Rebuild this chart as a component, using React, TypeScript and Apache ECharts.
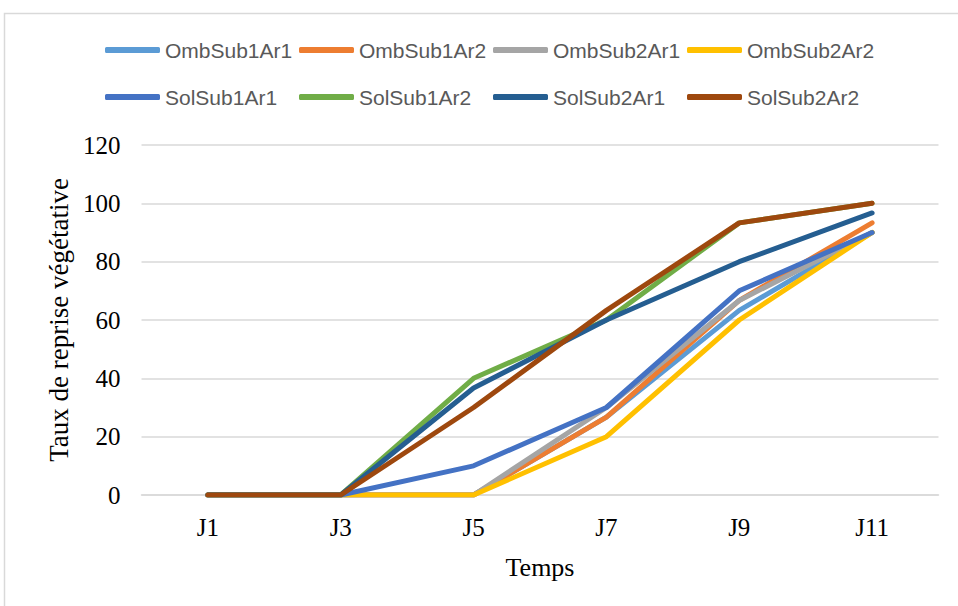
import React, { useEffect, useRef } from "react";
import * as echarts from "echarts";

const categories = ["J1", "J3", "J5", "J7", "J9", "J11"];
const seriesNames = [
  "OmbSub1Ar1",
  "OmbSub1Ar2",
  "OmbSub2Ar1",
  "OmbSub2Ar2",
  "SolSub1Ar1",
  "SolSub1Ar2",
  "SolSub2Ar1",
  "SolSub2Ar2",
];
const OmbSub1Ar1 = [0, 0, 0, 26.7, 63.3, 90];
const OmbSub1Ar2 = [0, 0, 0, 26.7, 66.7, 93.3];
const OmbSub2Ar1 = [0, 0, 0, 30, 66.7, 90];
const OmbSub2Ar2 = [0, 0, 0, 20, 60, 90];
const SolSub1Ar1 = [0, 0, 10, 30, 70, 90];
const SolSub1Ar2 = [0, 0, 40, 60, 93.3, 100];
const SolSub2Ar1 = [0, 0, 36.7, 60, 80, 96.7];
const SolSub2Ar2 = [0, 0, 30, 63.3, 93.3, 100];
const seriesValues = [
  OmbSub1Ar1,
  OmbSub1Ar2,
  OmbSub2Ar1,
  OmbSub2Ar2,
  SolSub1Ar1,
  SolSub1Ar2,
  SolSub2Ar1,
  SolSub2Ar2,
];
const colors = [
  "#5B9BD5",
  "#ED7D31",
  "#A5A5A5",
  "#FFC000",
  "#4472C4",
  "#70AD47",
  "#255E91",
  "#9E480E",
];

export default function App() {
  const ref = useRef<HTMLDivElement>(null);
  useEffect(() => {
    if (!ref.current) return;
    const chart = echarts.init(ref.current, undefined, { renderer: "svg" });
    const legendBase = {
      left: 105,
      padding: 0,
      orient: "horizontal",
      icon: "roundRect",
      itemWidth: 55,
      itemHeight: 6,
      itemGap: 6,
      textStyle: {
        fontFamily: "Liberation Sans",
        fontSize: 21,
        color: "#595959",
        width: 128,
        lineHeight: 22,
      },
    };
    chart.setOption({
      animation: false,
      color: colors,
      graphic: [
        {
          type: "rect",
          shape: { x: 4.5, y: 13.5, width: 1000, height: 700 },
          style: { fill: "none", stroke: "#D9D9D9", lineWidth: 1.5 },
          silent: true,
        },
      ],
      legend: [
        { ...legendBase, top: 39, data: seriesNames.slice(0, 4) },
        { ...legendBase, top: 86, data: seriesNames.slice(4) },
      ],
      grid: { left: 141.5, right: 19.5, top: 145, bottom: 111 },
      xAxis: {
        type: "category",
        data: categories,
        boundaryGap: true,
        name: "Temps",
        nameLocation: "middle",
        nameGap: 59,
        nameTextStyle: {
          fontFamily: "Liberation Serif",
          fontSize: 26,
          color: "#000",
        },
        axisLine: { lineStyle: { color: "#D9D9D9", width: 1.5 } },
        axisTick: { show: false },
        axisLabel: {
          fontFamily: "Liberation Serif",
          fontSize: 25,
          color: "#000",
          margin: 20,
        },
      },
      yAxis: {
        type: "value",
        min: 0,
        max: 120,
        interval: 20,
        name: "Taux de reprise végétative",
        nameLocation: "middle",
        nameGap: 69,
        nameTextStyle: {
          fontFamily: "Liberation Serif",
          fontSize: 27,
          color: "#000",
        },
        axisLine: { show: false },
        axisTick: { show: false },
        splitLine: { lineStyle: { color: "#D9D9D9", width: 1.5 } },
        axisLabel: {
          fontFamily: "Liberation Serif",
          fontSize: 25,
          color: "#000",
          margin: 21,
        },
      },
      series: seriesNames.map((name, i) => ({
        name,
        type: "line",
        data: seriesValues[i],
        showSymbol: false,
        symbol: "none",
        lineStyle: { width: 5, cap: "round", join: "round", color: colors[i] },
        itemStyle: { color: colors[i] },
      })),
    });
    return () => chart.dispose();
  }, []);
  return (
    <div
      ref={ref}
      style={{ position: "fixed", left: 0, top: 0, width: 958, height: 606, background: "#fff" }}
    />
  );
}
